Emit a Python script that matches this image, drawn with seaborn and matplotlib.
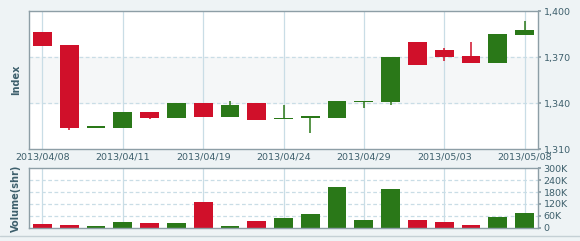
import matplotlib
matplotlib.use("Agg")
import matplotlib.pyplot as plt
import seaborn as sns
import pandas as pd
import numpy as np

dates = ["2013/04/08", "2013/04/09", "2013/04/10", "2013/04/11", "2013/04/12",
         "2013/04/15", "2013/04/19", "2013/04/22", "2013/04/23", "2013/04/24",
         "2013/04/25", "2013/04/26", "2013/04/29", "2013/04/30", "2013/05/02",
         "2013/05/03", "2013/05/06", "2013/05/07", "2013/05/08"]
opens  = [1386, 1378, 1324, 1324, 1334, 1330, 1340, 1331, 1340, 1329.4,
          1330.5, 1330, 1340.5, 1340.5, 1380, 1374.5, 1370.5, 1366, 1384.5]
closes = [1377, 1324, 1324.5, 1334, 1330, 1340, 1331, 1338.5, 1329, 1330.5,
          1331, 1341, 1341, 1370, 1365, 1370, 1366, 1385, 1387.5]
highs  = [1386, 1378, 1324.5, 1334, 1334, 1340, 1340, 1341, 1340, 1339,
          1331, 1341, 1341, 1370, 1380, 1376, 1379.5, 1385, 1393.5]
lows   = [1377, 1322.5, 1324, 1324, 1329.4, 1330, 1331, 1331, 1329, 1329.4,
          1320.5, 1330, 1336.5, 1339, 1365, 1367.5, 1366, 1366, 1384.5]
volumes = [19, 14, 7, 30, 25, 22, 131, 7, 34, 47,
           68, 207, 39, 194, 39, 30, 14, 56, 76]  # thousands
label_idx = [0, 3, 6, 9, 12, 15, 18]

RED = "#d0102a"
GREEN = "#2a7818"
TXT = "#3d5f6c"
GRID = "#c9dde6"
SPINE = "#8d9ea6"

sns.set_theme(style="white")
plt.rcParams["font.family"] = ["DejaVu Sans"]

up = [c >= o for o, c in zip(opens, closes)]
colors = [GREEN if u else RED for u in up]

fig = plt.figure(figsize=(5.8, 2.41), dpi=100)
fig.patch.set_facecolor("#eef3f5")
ax = fig.add_axes([29/580, 1-149/241, 509/580, 138/241])
axv = fig.add_axes([29/580, 1-227.7/241, 509/580, 59.4/241])

n = len(dates)
x = np.arange(n)

# main candlestick
ax.set_facecolor("white")
ax.axhspan(1340, 1370, color="#f5f7f8", zorder=0)
for i in label_idx:
    ax.axvline(i, color=GRID, lw=0.9, zorder=1)
for yv in [1340, 1370]:
    ax.axhline(yv, color=GRID, lw=0.9, ls=(0, (3, 2)), zorder=1)
ax.vlines(x, lows, highs, colors=colors, lw=1.1, zorder=2)
bottoms = [min(o, c) for o, c in zip(opens, closes)]
heights = [max(abs(c - o), 0.7) for o, c in zip(opens, closes)]
ax.bar(x, heights, bottom=bottoms, width=0.7, color=colors, zorder=3, linewidth=0)
ax.set_xlim(-0.5, n - 0.5)
ax.set_ylim(1310, 1400)
ax.yaxis.tick_right()
ax.set_yticks([1310, 1340, 1370, 1400])
ax.set_yticklabels(["1,310", "1,340", "1,370", "1,400"])
ax.set_xticks(label_idx)
ax.set_xticklabels([dates[i] for i in label_idx])
ax.tick_params(axis="y", colors=TXT, labelsize=6.8, length=2, pad=2, labelcolor=TXT, color=SPINE)
ax.tick_params(axis="x", colors=TXT, labelsize=6.8, length=0, pad=2.5, labelcolor=TXT)
ax.set_ylabel("Index", color=TXT, fontsize=7, fontweight="bold", labelpad=6)
for s in ax.spines.values():
    s.set_color(SPINE)
    s.set_linewidth(1.0)

# volume
axv.set_facecolor("white")
for i in label_idx:
    axv.axvline(i, color=GRID, lw=0.9, zorder=0)
for yv in [60, 120, 180, 240]:
    axv.axhline(yv, color=GRID, lw=0.9, ls=(0, (3, 2)), zorder=0)
df = pd.DataFrame({"date": dates, "vol": volumes,
                   "dir": ["up" if u else "down" for u in up]})
sns.barplot(data=df, x="date", y="vol", hue="dir", order=dates,
            palette={"up": GREEN, "down": RED}, dodge=False, width=0.7,
            saturation=1, legend=False, ax=axv, zorder=2, linewidth=0)
axv.set_xlim(-0.5, n - 0.5)
axv.set_ylim(0, 300)
axv.yaxis.tick_right()
axv.set_yticks([0, 60, 120, 180, 240, 300])
axv.set_yticklabels(["0", "60K", "120K", "180K", "240K", "300K"])
axv.set_xticks([])
axv.set_xlabel("")
axv.tick_params(axis="y", colors=TXT, labelsize=6.8, length=2, pad=2, labelcolor=TXT, color=SPINE)
axv.set_ylabel("Volume(shr)", color=TXT, fontsize=7, fontweight="bold", labelpad=6)
for s in axv.spines.values():
    s.set_color(SPINE)
    s.set_linewidth(1.0)

fig.add_artist(plt.Line2D([0, 1], [1-236/241, 1-236/241], color="#c5d0d5", lw=1))

fig.savefig("out.png", dpi=100, facecolor=fig.get_facecolor())
